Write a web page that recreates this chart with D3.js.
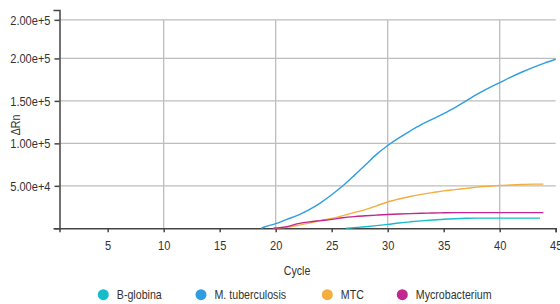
<!DOCTYPE html>
<html>
<head>
<meta charset="utf-8">
<script src="https://cdn.jsdelivr.net/npm/d3@7/dist/d3.min.js"></script>
<style>
  body { margin:0; background:#fff; }
  text { font-family:"Liberation Sans Narrow","Liberation Sans",Arial,sans-serif; fill:#333; }
</style>
</head>
<body>
<svg></svg>
<script>
// series names and colours
var seriesNames = ["B-globina", "M. tuberculosis", "MTC", "Mycrobacterium"];
var seriesColors = ["#17bccb", "#2f9de0", "#f4ad3f", "#c2268f"];

// cycles / delta Rn
var bglobinaCycles = [26.3, 27, 28, 29, 30, 31, 32, 33, 34, 35, 36, 37, 38, 40, 42, 43.6];
var bglobinaValues = [0, 800, 1900, 3200, 4600, 6300, 7600, 8800, 9800, 10600, 11300, 11800, 12000, 12000, 12000, 12000];

var mtbCycles = [18.7, 19, 20, 21, 22, 23, 24, 25, 26, 27, 28, 29, 30, 31, 32, 33, 34, 35, 36, 37, 38, 39, 40, 41, 42, 43, 44, 45];
var mtbValues = [0, 1500, 5500, 10500, 15500, 22000, 30000, 39500, 50000, 62000, 74500, 87000, 97500, 106500, 114500, 122000, 128500, 135000, 142000, 150000, 158000, 165000, 171500, 178000, 184000, 189500, 194500, 199000];

var mtcCycles = [19.8, 20, 21, 22, 23, 24, 25, 26, 27, 28, 29, 30, 31, 32, 33, 34, 35, 36, 37, 38, 39, 40, 41, 42, 43, 43.9];
var mtcValues = [0, 200, 1300, 3500, 6200, 9000, 11500, 15000, 18500, 22000, 26500, 31000, 34500, 37500, 40000, 42000, 44000, 45500, 47000, 48500, 49500, 50500, 51000, 51500, 52000, 52000];

var mycoCycles = [19.8, 21, 22, 23, 24, 25, 26, 27, 28, 29, 30, 31, 32, 33, 34, 35, 36, 38, 40, 42, 43.9];
var mycoValues = [0, 2000, 5500, 7500, 9000, 10500, 12500, 13800, 14700, 15500, 16200, 16800, 17300, 17700, 18000, 18300, 18500, 18500, 18500, 18500, 18500];

var xTicks = [5, 10, 15, 20, 25, 30, 35, 40, 45];
var xGrid = [10, 20, 30, 40];
var yTicks = [0, 50000, 100000, 150000, 200000, 245400];
var yTickLabels = ["", "5.00e+4", "1.00e+5", "1.50e+5", "2.00e+5", "2.00e+5"];

var series = [
  {name:seriesNames[0], color:seriesColors[0], cycles:bglobinaCycles, values:bglobinaValues},
  {name:seriesNames[1], color:seriesColors[1], cycles:mtbCycles, values:mtbValues},
  {name:seriesNames[2], color:seriesColors[2], cycles:mtcCycles, values:mtcValues},
  {name:seriesNames[3], color:seriesColors[3], cycles:mycoCycles, values:mycoValues}
];

var screen = { width:560, height:304 };
var squeeze = 0.82; // condensed look

// squeeze text horizontally, keeping its anchor point
var narrow = function(sel)
{
  sel.each(function(){
    var t = d3.select(this);
    var px = +(t.attr("x") || 0);
    var tr = t.attr("transform") || "";
    t.attr("x", px / squeeze)
     .attr("transform", tr + " scale(" + squeeze + ",1)");
  });
};

var svg = d3.select("svg")
            .attr("width", screen.width)
            .attr("height", screen.height);

var x = d3.scaleLinear().domain([0.7, 45]).range([59.5, 555.7]);
var y = d3.scaleLinear().domain([0, 257000]).range([228.3, 10]);

// grid
svg.append("g")
   .selectAll("line")
   .data(yTicks.slice(1))
   .enter()
   .append("line")
   .attr("x1", x.range()[0]).attr("x2", x.range()[1])
   .attr("y1", function(d){ return y(d); })
   .attr("y2", function(d){ return y(d); })
   .attr("stroke", "#bdbdbd")
   .attr("stroke-width", 1.3);

svg.append("g")
   .selectAll("line")
   .data(xGrid)
   .enter()
   .append("line")
   .attr("x1", function(d){ return x(d); })
   .attr("x2", function(d){ return x(d); })
   .attr("y1", y(yTicks[yTicks.length-1]))
   .attr("y2", y(0))
   .attr("stroke", "#bdbdbd")
   .attr("stroke-width", 1.3);

// axes
var xAxis = svg.append("g")
               .attr("transform", "translate(0," + y(0) + ")")
               .call(d3.axisBottom(x).tickValues(xTicks).tickSize(4).tickSizeOuter(4).tickPadding(8));
var yAxis = svg.append("g")
               .attr("transform", "translate(" + x.range()[0] + ",0)")
               .call(d3.axisLeft(y).tickValues(yTicks).tickSize(5).tickSizeOuter(6).tickPadding(4)
                       .tickFormat(function(d, i){ return yTickLabels[i]; }));

[xAxis, yAxis].forEach(function(a){
  a.selectAll("path, line").attr("stroke", "#444").attr("stroke-width", 1.5);
  a.selectAll("text").attr("font-size", "13.5px").attr("fill", "#333")
   .style("font-family", "'Liberation Sans Narrow','Liberation Sans',Arial,sans-serif")
   .call(narrow);
});

// lines
var line = d3.line()
             .x(function(d){ return x(d[0]); })
             .y(function(d){ return y(d[1]); })
             .curve(d3.curveMonotoneX);

svg.append("g")
   .selectAll("path")
   .data(series)
   .enter()
   .append("path")
   .attr("d", function(s){ return line(d3.zip(s.cycles, s.values)); })
   .attr("fill", "none")
   .attr("stroke", function(s){ return s.color; })
   .attr("stroke-width", 1.4);

// axis titles
svg.append("text")
   .attr("x", 297).attr("y", 275)
   .attr("text-anchor", "middle")
   .attr("font-size", "13px")
   .text("Cycle")
   .call(function(t){
     t.attr("x", 0).attr("transform", "translate(297,0)");
     narrow(t);
   });

svg.append("text")
   .attr("transform", "translate(20,125) rotate(-90)")
   .attr("text-anchor", "middle")
   .attr("font-size", "13px")
   .text("\u0394Rn")
   .call(narrow);

// legend
var legendX = [103.3, 201, 327.3, 402.3];
var legend = svg.append("g")
                .selectAll("g")
                .data(series)
                .enter()
                .append("g")
                .attr("transform", function(d, i){ return "translate(" + legendX[i] + ",294.7)"; });

legend.append("circle")
      .attr("r", 5.5)
      .attr("fill", function(d){ return d.color; });

legend.append("text")
      .attr("x", 13.5)
      .attr("dy", "0.35em")
      .attr("font-size", "13px")
      .text(function(d){ return d.name; })
      .call(narrow);
</script>
</body>
</html>
